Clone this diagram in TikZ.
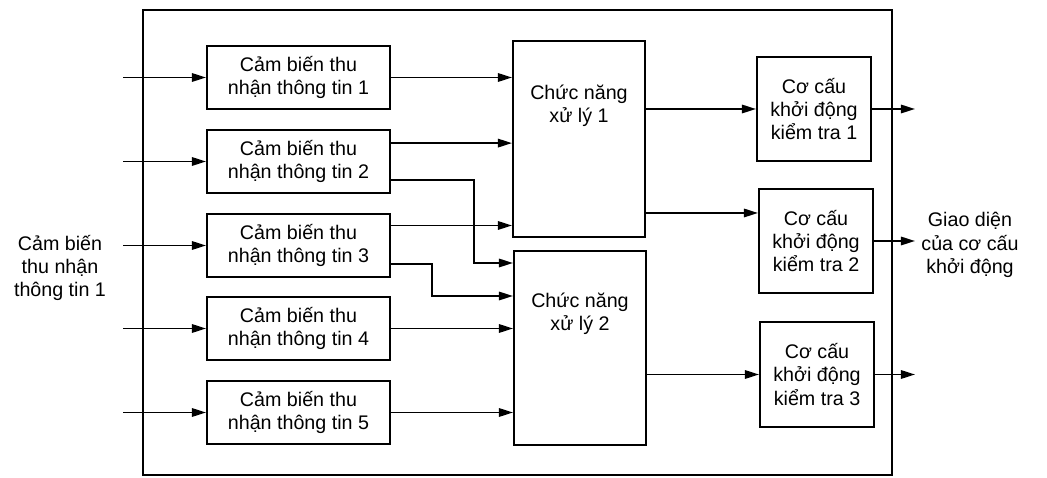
\documentclass[tikz,border=0pt]{standalone}
\usepackage{fontspec}
\setmainfont{Liberation Sans}
\usepackage{tikz}
\usetikzlibrary{positioning}
\usetikzlibrary{arrows.meta}

\begin{document}
\begin{tikzpicture}[x=0.025cm, y=-0.025cm,
  every node/.style={font=\fontsize{14}{16.5}\selectfont, align=center},
  sensor/.style={draw, line width=1.4, minimum width=4.575cm, minimum height=1.575cm, inner sep=0pt},
  func/.style={draw, line width=1.4, minimum width=3.3cm, inner sep=0pt},
  actor/.style={draw, line width=1.4, minimum width=2.85cm, minimum height=2.62cm, inner sep=0pt},
  wire/.style={line width=1.3, -{Triangle[length=10pt,width=6pt]}}]
  \useasboundingbox (0,0) rectangle (1047,478);
  \draw[line width=1.6] (143,10) rectangle (892,475);
  % sensors
  \node[sensor] (s1) at (298.5, 77.5) {Cảm biến thu\\nhận thông tin 1};
  \node[sensor] (s2) at (298.5, 161.5) {Cảm biến thu\\nhận thông tin 2};
  \node[sensor] (s3) at (298.5, 245.5) {Cảm biến thu\\nhận thông tin 3};
  \node[sensor] (s4) at (298.5, 328.5) {Cảm biến thu\\nhận thông tin 4};
  \node[sensor] (s5) at (298.5, 412.5) {Cảm biến thu\\nhận thông tin 5};
  % processing
  \node[func, minimum height=4.9cm] (f1) at (579, 139) {};
  \node (f1t) at (579, 106) {Chức năng\\xử lý 1};
  \node[func, minimum height=4.85cm] (f2) at (580, 348) {};
  \node (f2t) at (580, 314) {Chức năng\\xử lý 2};
  % actuators
  \node[actor] (o1) at (814, 109) {Cơ cấu\\khởi động\\kiểm tra 1};
  \node[actor] (o2) at (816, 241) {Cơ cấu\\khởi động\\kiểm tra 2};
  \node[actor] (o3) at (817, 374.5) {Cơ cấu\\khởi động\\kiểm tra 3};
  % outside labels
  \node (src) at (60, 268) {Cảm biến\\thu nhận\\thông tin 1};
  \node (ifc) at (970, 245) {Giao diện\\của cơ cấu\\khởi động};
  \coordinate (in) at (123, 0);
  \coordinate (out) at (915, 0);
  \coordinate (j2) at (474, 263);
  \coordinate (j3) at (432, 296);
  \foreach \s in {s1,s2,s3,s4,s5}
    \draw[wire] (in |- \s.west) -- (\s.west);
  \draw[wire] (s1.east) -- (s1.east -| f1.west);
  \draw[wire] ([yshift=0.46cm]s2.east) -- ([yshift=0.46cm]s2.east -| f1.west);
  \draw[wire] ([yshift=-0.46cm]s2.east) -| (j2) -- (j2 -| f2.west);
  \draw[wire] ([yshift=0.5cm]s3.east) -- ([yshift=0.5cm]s3.east -| f1.west);
  \draw[wire] ([yshift=-0.47cm]s3.east) -| (j3) -- (j3 -| f2.west);
  \draw[wire] (s4.east) -- (s4.east -| f2.west);
  \draw[wire] (s5.east) -- (s5.east -| f2.west);
  \draw[wire] (o1.west -| f1.east) -- (o1.west);
  \draw[wire] ([yshift=0.7cm]o2.west -| f1.east) -- ([yshift=0.7cm]o2.west);
  \draw[wire] (o3.west -| f2.east) -- (o3.west);
  \foreach \o in {o1,o2,o3}
    \draw[wire] (\o.east) -- (\o.east -| out);
\end{tikzpicture}
\end{document}
